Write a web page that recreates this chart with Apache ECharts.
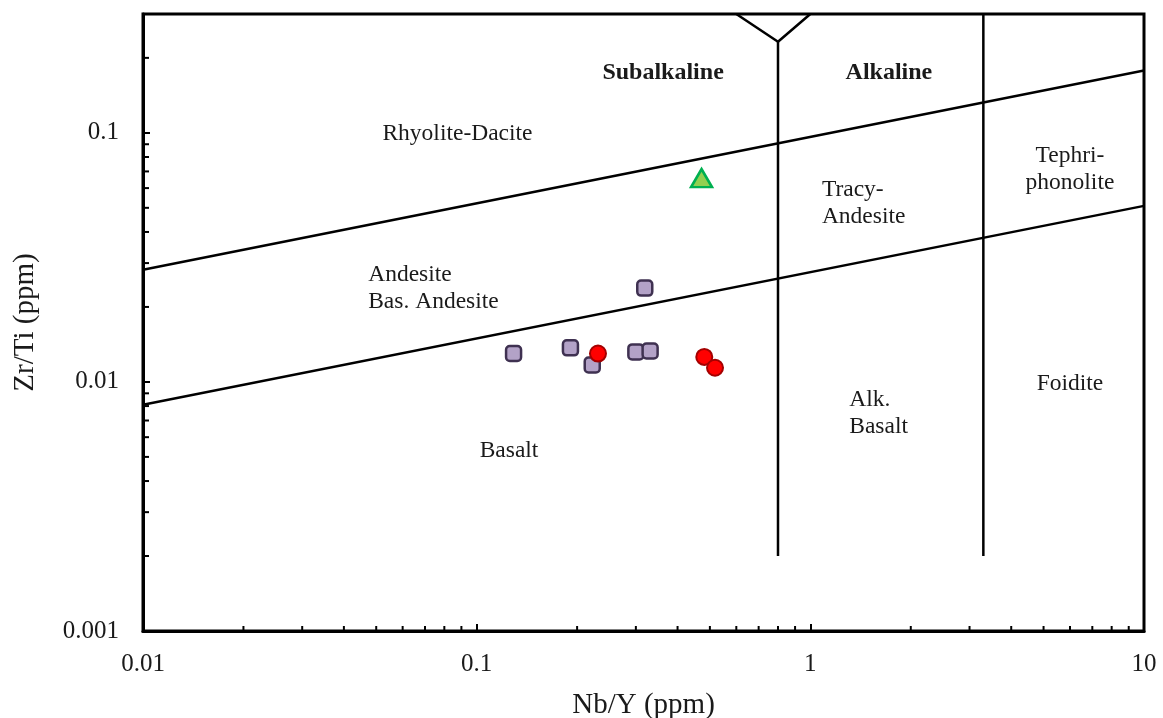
<!DOCTYPE html>
<html>
<head>
<meta charset="utf-8">
<title>Zr/Ti vs Nb/Y classification</title>
<script src="https://cdn.jsdelivr.net/npm/echarts@6/dist/echarts.min.js"></script>
<style>
  html, body { margin: 0; padding: 0; background: #fff; }
  #chart { width: 1163px; height: 718px; }
</style>
</head>
<body>
<div id="chart"></div>
<script>
// Sample compositions (Nb/Y, Zr/Ti)
const squareNbY  = [0.129, 0.191, 0.222, 0.300, 0.331, 0.319];
const squareZrTi = [0.0130, 0.0137, 0.0117, 0.0132, 0.0133, 0.0238];
const circleNbY  = [0.231, 0.481, 0.518];
const circleZrTi = [0.0130, 0.0126, 0.0114];
const triangleNbY  = [0.472];
const triangleZrTi = [0.0658];

// Field boundaries (Nb/Y, Zr/Ti)
const upperBoundary = [[0.01, 0.0282], [10, 0.178]];
const lowerBoundary = [[0.01, 0.0081], [10, 0.0509]];
const alkalineDivide = [[0.8, 0.002], [0.8, 0.232]];
const alkalineFork = [[0.6, 0.3], [0.8, 0.232], [1.0, 0.3]];
const foiditeDivide = [[3.3, 0.002], [3.3, 0.3]];

// Field names and their anchor points (Nb/Y, Zr/Ti)
const fieldNames = ['Rhyolite-Dacite', 'Tephri-\nphonolite', 'Basalt', 'Foidite'];
const fieldAnchors = [[0.0876, 0.1009], [6.0, 0.073], [0.125, 0.00538], [6.0, 0.00997]];
const leftFieldNames = ['Andesite\nBas. Andesite', 'Tracy-\nAndesite', 'Alk.\nBasalt'];
const leftFieldAnchors = [[0.0473, 0.0243], [1.083, 0.0533], [1.308, 0.00761]];
const seriesNames = ['Subalkaline', 'Alkaline'];
const seriesAnchors = [[0.362, 0.1775], [1.72, 0.1775]];

// Axis ranges
const xMin = 0.01, xMax = 10;
const yMin = 0.001, yMax = 0.3;
const xTitle = 'Nb/Y (ppm)';
const yTitle = 'Zr/Ti (ppm)';

const FONT = '"Liberation Serif", "Times New Roman", serif';
const INK = '#1a1a1a';

function zip(xs, ys) { return xs.map((x, i) => [x, ys[i]]); }

// minor tick values 2..9 x 10^k inside a range
function minorTicks(lo, hi) {
  const out = [];
  for (let e = Math.floor(Math.log10(lo)); e <= Math.ceil(Math.log10(hi)); e++) {
    for (let m = 2; m <= 9; m++) {
      const v = m * Math.pow(10, e);
      if (v > lo * 1.0001 && v < hi * 0.9999) out.push(v);
    }
  }
  return out;
}

function decadeLabel(v) {
  const l = Math.log10(v);
  if (Math.abs(l - Math.round(l)) > 1e-6) return '';
  return String(Number(v.toPrecision(6)));
}

function lineSeries(data) {
  return {
    type: 'line', data: data, symbol: 'none', silent: true,
    lineStyle: { color: '#000', width: 2.5 }, z: 3, animation: false
  };
}

// field names drawn as text at data-space anchors
function textSeries(names, anchors, align, bold) {
  return {
    type: 'custom', silent: true, z: 6, animation: false,
    data: anchors.map((p, i) => [p[0], p[1], i]),
    renderItem: (params, api) => {
      const p = api.coord([api.value(0), api.value(1)]);
      return {
        type: 'text', x: p[0], y: p[1] + 2,
        style: {
          text: names[api.value(2)],
          fill: INK,
          font: (bold ? 'bold ' : '') + (bold ? 24 : 23.5) + 'px ' + FONT,
          align: align, verticalAlign: 'middle', lineHeight: 27
        }
      };
    }
  };
}

const chart = echarts.init(document.getElementById('chart'), null, { renderer: 'canvas' });

const option = {
  animation: false,
  backgroundColor: '#fff',
  grid: {
    left: 143, right: 19, top: 14, bottom: 87,
    outerBoundsMode: 'none', containLabel: false,
    show: true, borderColor: '#000', borderWidth: 3
  },
  xAxis: {
    type: 'log', logBase: 10, min: xMin, max: xMax,
    name: xTitle, nameLocation: 'middle', nameGap: 60,
    nameTextStyle: { fontFamily: FONT, fontSize: 29, color: INK },
    axisLine: { show: true, lineStyle: { color: '#000', width: 3 } },
    axisTick: { show: true, inside: true, length: 7, lineStyle: { color: '#000', width: 2 } },
    axisLabel: { margin: 21, fontFamily: FONT, fontSize: 25, color: INK, formatter: decadeLabel },
    splitLine: { show: false }
  },
  yAxis: {
    type: 'log', logBase: 10, min: yMin, max: yMax,
    name: yTitle, nameLocation: 'middle', nameGap: 103, nameRotate: 90,
    nameTextStyle: { fontFamily: FONT, fontSize: 29, color: INK },
    axisLine: { show: true, lineStyle: { color: '#000', width: 3 } },
    axisTick: { show: true, inside: true, length: 7, lineStyle: { color: '#000', width: 2 } },
    axisLabel: { margin: 24, padding: [4, 0, 0, 0], fontFamily: FONT, fontSize: 25, color: INK,
                 formatter: decadeLabel, showMaxLabel: false },
    splitLine: { show: false }
  },
  series: [
    // minor ticks along the bottom axis
    {
      type: 'custom', silent: true, z: 4, animation: false,
      data: minorTicks(xMin, xMax).map(v => [v, yMin]),
      renderItem: (params, api) => {
        const p = api.coord([api.value(0), api.value(1)]);
        return { type: 'line', shape: { x1: p[0], y1: p[1], x2: p[0], y2: p[1] - 5 },
                 style: { stroke: '#000', lineWidth: 2 } };
      }
    },
    // minor ticks along the left axis
    {
      type: 'custom', silent: true, z: 4, animation: false,
      data: minorTicks(yMin, yMax).map(v => [xMin, v]),
      renderItem: (params, api) => {
        const p = api.coord([api.value(0), api.value(1)]);
        return { type: 'line', shape: { x1: p[0], y1: p[1], x2: p[0] + 6, y2: p[1] },
                 style: { stroke: '#000', lineWidth: 2 } };
      }
    },
    lineSeries(upperBoundary),
    lineSeries(lowerBoundary),
    lineSeries(alkalineDivide),
    lineSeries(alkalineFork),
    lineSeries(foiditeDivide),
    textSeries(fieldNames, fieldAnchors, 'center', false),
    textSeries(leftFieldNames, leftFieldAnchors, 'left', false),
    textSeries(seriesNames, seriesAnchors, 'center', true),
    {
      type: 'scatter', z: 10, animation: false,
      data: zip(squareNbY, squareZrTi),
      symbol: 'roundRect', symbolSize: 15,
      itemStyle: { color: '#b3a2c7', borderColor: '#3f3151', borderWidth: 2.5, opacity: 1 }
    },
    {
      type: 'scatter', z: 11, animation: false,
      data: zip(circleNbY, circleZrTi),
      symbol: 'circle', symbolSize: 16,
      itemStyle: { color: '#ff0000', borderColor: '#a50000', borderWidth: 2, opacity: 1 }
    },
    {
      type: 'scatter', z: 11, animation: false,
      data: zip(triangleNbY, triangleZrTi),
      symbol: 'triangle', symbolSize: [21, 18],
      itemStyle: { color: '#92d050', borderColor: '#00b050', borderWidth: 2.5, opacity: 1 }
    }
  ]
};

chart.setOption(option);
</script>
</body>
</html>
